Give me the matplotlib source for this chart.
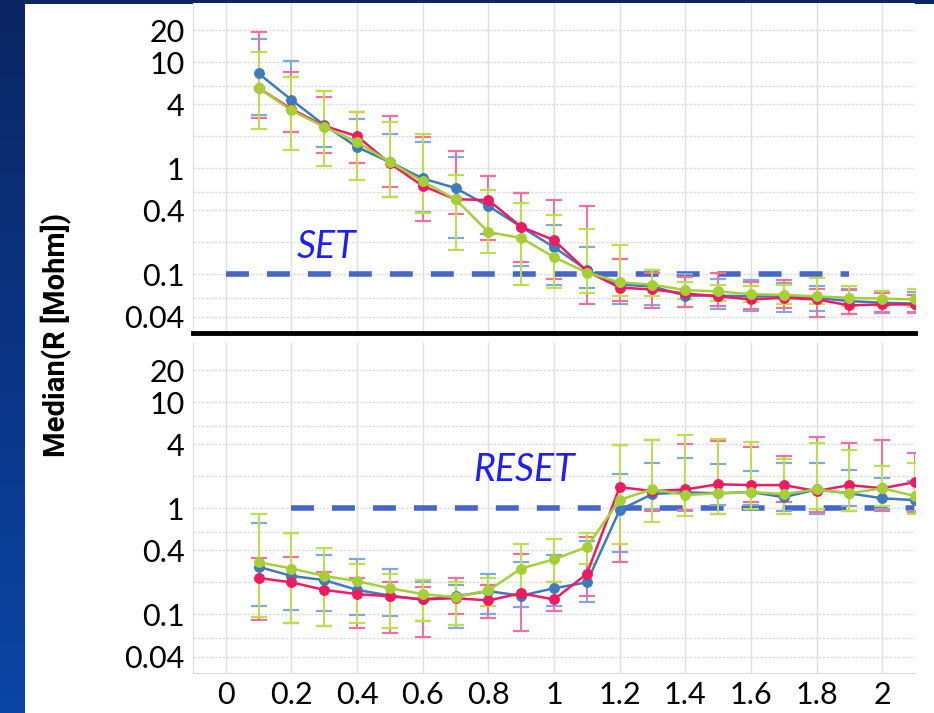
import numpy as np
import matplotlib.pyplot as plt
from matplotlib.ticker import FixedLocator, NullFormatter, FixedFormatter
from matplotlib.colors import LinearSegmentedColormap

plt.rcParams['lines.scale_dashes'] = False

# Data
x = [0.1, 0.2, 0.3, 0.4, 0.5, 0.6, 0.7, 0.8, 0.9, 1.0, 1.1,
     1.2, 1.3, 1.4, 1.5, 1.6, 1.7, 1.8, 1.9, 2.0, 2.1]

# SET (top panel): median and error-bar ends
set_red = [5.7, 3.6, 2.5, 2.0, 1.11, 0.68, 0.51, 0.50, 0.28, 0.21, 0.107,
           0.075, 0.072, 0.066, 0.062, 0.058, 0.060, 0.058, 0.051, 0.052, 0.052]
set_blue = [7.8, 4.4, 2.55, 1.58, 1.14, 0.80, 0.65, 0.44, 0.28, 0.18, 0.11,
            0.080, 0.077, 0.063, 0.063, 0.062, 0.062, 0.060, 0.056, 0.054, 0.053]
set_green = [5.7, 3.5, 2.45, 1.76, 1.14, 0.75, 0.51, 0.25, 0.22, 0.145, 0.104,
             0.084, 0.080, 0.071, 0.069, 0.065, 0.064, 0.062, 0.060, 0.059, 0.058]
set_red_hi = [19, 8.0, 4.7, 3.4, 3.1, 1.96, 1.45, 0.84, 0.58, 0.50, 0.44,
              0.14, 0.102, 0.094, 0.104, 0.085, 0.088, 0.072, 0.071, 0.066, 0.064]
set_red_lo = [2.96, 2.2, 1.4, 1.11, 0.66, 0.32, 0.37, 0.21, 0.13, 0.09, 0.053,
              0.056, 0.048, 0.049, 0.050, 0.047, 0.048, 0.040, 0.042, 0.044, 0.043]
set_blue_hi = [16.5, 10.2, 5.3, 2.9, 2.1, 1.76, 1.27, 0.84, 0.58, 0.29, 0.18,
               0.14, 0.109, 0.10, 0.09, 0.088, 0.082, 0.078, 0.072, 0.069, 0.068]
set_blue_lo = [3.2, 2.2, 1.58, 1.11, 0.53, 0.39, 0.22, 0.24, 0.12, 0.08, 0.074,
               0.052, 0.051, 0.049, 0.047, 0.045, 0.044, 0.045, 0.042, 0.043, 0.044]
set_green_hi = [12.4, 7.2, 5.3, 3.4, 2.7, 2.1, 0.86, 0.62, 0.47, 0.36, 0.27,
                0.19, 0.109, 0.085, 0.08, 0.078, 0.08, 0.092, 0.077, 0.069, 0.072]
set_green_lo = [2.33, 1.48, 1.04, 0.77, 0.54, 0.38, 0.17, 0.16, 0.079, 0.075, 0.066,
                0.062, 0.063, 0.058, 0.056, 0.055, 0.053, 0.052, 0.050, 0.050, 0.049]

# RESET (bottom panel)
reset_red = [0.22, 0.20, 0.17, 0.155, 0.148, 0.138, 0.142, 0.135, 0.158, 0.138, 0.24,
             1.58, 1.45, 1.5, 1.68, 1.65, 1.65, 1.45, 1.65, 1.54, 1.76]
reset_blue = [0.28, 0.23, 0.21, 0.17, 0.15, 0.138, 0.148, 0.165, 0.15, 0.176, 0.20,
              0.96, 1.36, 1.41, 1.38, 1.42, 1.27, 1.5, 1.38, 1.24, 1.19]
reset_green = [0.31, 0.27, 0.23, 0.205, 0.176, 0.155, 0.145, 0.168, 0.27, 0.33, 0.43,
               1.2, 1.51, 1.33, 1.38, 1.42, 1.36, 1.5, 1.38, 1.54, 1.3]
reset_red_hi = [0.34, 0.35, 0.25, 0.22, 0.2, 0.18, 0.22, 0.19, 0.37, 0.2, 0.54,
                3.9, 4.4, 4.0, 4.3, 3.8, 3.1, 4.7, 4.1, 4.4, 3.3]
reset_red_lo = [0.088, 0.082, 0.077, 0.075, 0.066, 0.061, 0.1, 0.092, 0.069, 0.107, 0.15,
                0.31, 0.95, 0.96, 0.88, 1.14, 1.14, 0.92, 0.94, 0.95, 0.92]
reset_blue_hi = [0.72, 0.58, 0.36, 0.33, 0.27, 0.2, 0.19, 0.24, 0.31, 0.36, 0.49,
                 2.1, 2.65, 2.96, 2.6, 2.23, 2.65, 2.65, 2.3, 1.92, 1.8]
reset_blue_lo = [0.119, 0.111, 0.107, 0.098, 0.096, 0.086, 0.074, 0.1, 0.116, 0.12, 0.13,
                 0.39, 0.98, 0.95, 1.07, 1.07, 0.95, 0.88, 1.04, 0.98, 0.95]
reset_green_hi = [0.88, 0.58, 0.42, 0.3, 0.24, 0.21, 0.2, 0.22, 0.46, 0.51, 0.58,
                  3.9, 4.4, 4.9, 4.5, 4.2, 2.9, 4.1, 3.5, 2.5, 2.65]
reset_green_lo = [0.094, 0.082, 0.077, 0.082, 0.074, 0.086, 0.079, 0.12, 0.15, 0.2, 0.3,
                  0.46, 0.74, 0.84, 0.88, 0.98, 0.88, 0.98, 0.94, 1.04, 0.88]

y_ticks = [0.04, 0.1, 0.4, 1, 4, 10, 20]
y_tick_labels = ['0.04', '0.1', '0.4', '1', '4', '10', '20']
y_minor = [0.06, 0.2, 0.6, 2, 6]
x_ticks = [0, 0.2, 0.4, 0.6, 0.8, 1.0, 1.2, 1.4, 1.6, 1.8, 2.0]
x_tick_labels = ['0', '0.2', '0.4', '0.6', '0.8', '1', '1.2', '1.4', '1.6', '1.8', '2']

set_level = 0.1
reset_level = 1.0

RED, BLUE, GREEN = '#ee1b62', '#3f7bbb', '#a6cf36'
RED_E, BLUE_E, GREEN_E = '#f46f9c', '#7fa9d9', '#bde04a'
FONT = ['Lato', 'DejaVu Sans']

fig = plt.figure(figsize=(9.34, 7.13), dpi=100)
fig.patch.set_facecolor('#0b2663')

# white slide area + gradient strip on the left
fig.add_artist(plt.Rectangle((25 / 934, 0), 1, 709 / 713, transform=fig.transFigure,
                             facecolor='white', edgecolor='none', zorder=0))
bg = fig.add_axes([0, 0, 25 / 934, 709 / 713], zorder=0)
grad = np.linspace(0, 1, 256).reshape(-1, 1)
cmap = LinearSegmentedColormap.from_list('strip', ['#0a45a6', '#0b2663'])
bg.imshow(grad, aspect='auto', cmap=cmap, origin='lower')
bg.axis('off')

left, width = 193 / 934, 722 / 934
ax1 = fig.add_axes([left, 380 / 713, width, 330 / 713])
ax2 = fig.add_axes([left, 40 / 713, width, 330 / 713])


def draw_panel(ax, series):
    for med, lo, hi, c, ce in series:
        med = np.array(med)
        err = [med - np.array(lo), np.array(hi) - med]
        ax.errorbar(x, med, yerr=err, fmt='none', ecolor=ce, elinewidth=1.4,
                    capsize=5.5, capthick=1.6, zorder=2)
    for med, lo, hi, c, ce in series:
        ax.plot(x, med, color=c, linewidth=1.8, marker='o', markersize=7,
                markeredgecolor=c, markeredgewidth=0.8, zorder=3)
    ax.set_yscale('log')
    ax.set_ylim(0.028, 36)
    ax.set_xlim(-0.1, 2.1)
    ax.yaxis.set_major_locator(FixedLocator(y_ticks))
    ax.yaxis.set_major_formatter(FixedFormatter(y_tick_labels))
    ax.yaxis.set_minor_locator(FixedLocator(y_minor))
    ax.yaxis.set_minor_formatter(NullFormatter())
    ax.xaxis.set_major_locator(FixedLocator(x_ticks))
    ax.grid(True, which='both', axis='y', color='#dedede', linewidth=1.0, linestyle=(0, (2, 1)))
    ax.grid(True, which='major', axis='x', color='#dedede', linewidth=1.0)
    ax.set_axisbelow(True)
    ax.tick_params(which='both', length=0, labelsize=22, pad=6)
    for lab in ax.get_yticklabels():
        lab.set_family(FONT)
    for s in ['top', 'right']:
        ax.spines[s].set_visible(False)
    for s in ['left', 'bottom']:
        ax.spines[s].set_color('#dcdcdc')
    ax.set_facecolor('white')


draw_panel(ax1, [(set_blue, set_blue_lo, set_blue_hi, BLUE, BLUE_E),
                 (set_red, set_red_lo, set_red_hi, RED, RED_E),
                 (set_green, set_green_lo, set_green_hi, GREEN, GREEN_E)])
draw_panel(ax2, [(reset_blue, reset_blue_lo, reset_blue_hi, BLUE, BLUE_E),
                 (reset_red, reset_red_lo, reset_red_hi, RED, RED_E),
                 (reset_green, reset_green_lo, reset_green_hi, GREEN, GREEN_E)])

ax1.set_xticklabels([])
ax1.spines['bottom'].set_color('black')
ax1.spines['bottom'].set_linewidth(3.5)
ax2.set_xticklabels(x_tick_labels)
for lab in ax2.get_xticklabels():
    lab.set_family(FONT)

# thresholds
ax1.plot([0.0, 1.9], [set_level, set_level], color='#4767c8', linewidth=4,
         dashes=(16.5, 13), solid_capstyle='butt', dash_capstyle='butt', zorder=1.5)
ax2.plot([0.2, 2.1], [reset_level, reset_level], color='#4767c8', linewidth=4,
         dashes=(16.5, 13), solid_capstyle='butt', dash_capstyle='butt', zorder=1.5)
ax1.text(0.306, 0.18, 'SET', color='#1f1ff0', fontsize=27, style='italic',
         family=FONT, ha='center', va='center')
ax2.text(0.91, 2.28, 'RESET', color='#1f1ff0', fontsize=27, style='italic',
         family=FONT, ha='center', va='center')

fig.text(56 / 934, 1 - 335 / 713, 'Median(R [Mohm])', rotation=90, fontsize=21,
         fontweight='bold', family=['Roboto', 'DejaVu Sans'],
         ha='center', va='center')

fig.savefig('out.png', dpi=100, facecolor=fig.get_facecolor())
